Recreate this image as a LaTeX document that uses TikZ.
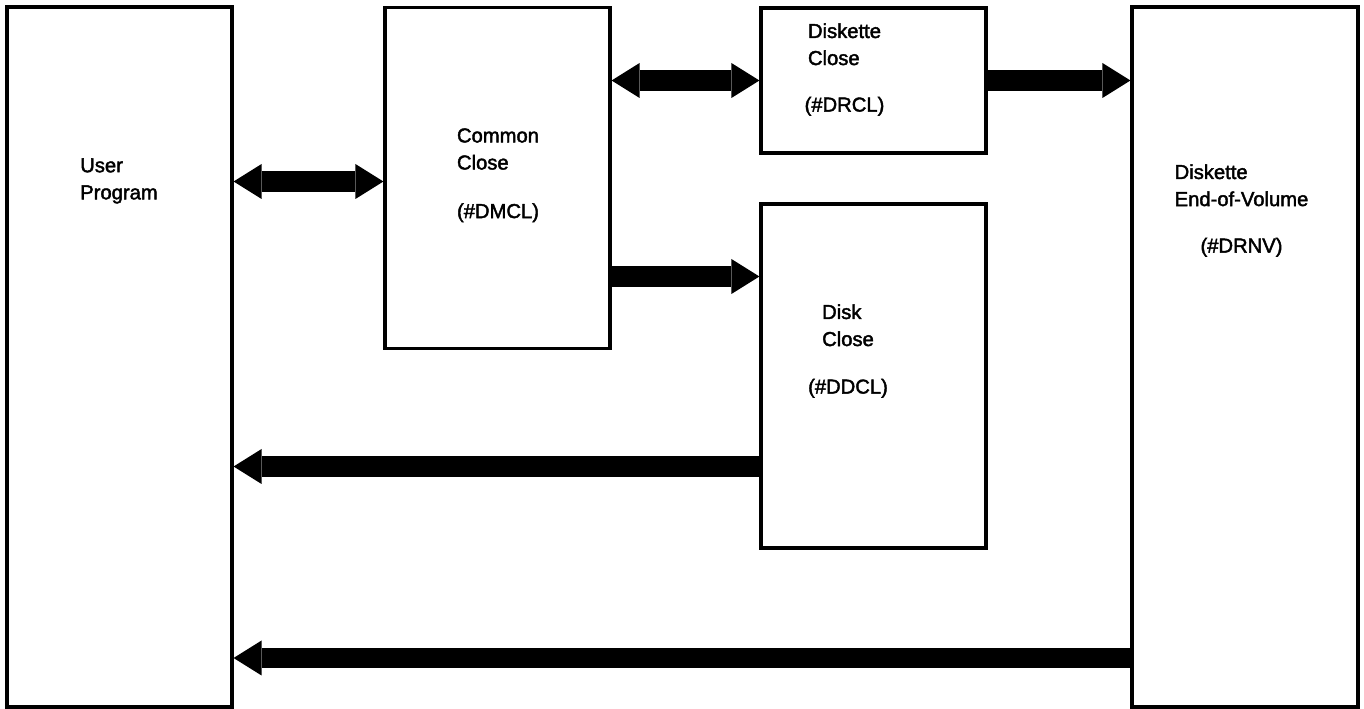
\documentclass[tikz,border=0pt]{standalone}
\usepackage{fontspec}
\setmainfont{Liberation Sans}[UprightFeatures={FakeBold=2}]
\usetikzlibrary{arrows.meta,positioning}

\begin{document}
\begin{tikzpicture}[font=\fontsize{11.5}{15.4}\selectfont,
  blk/.style={draw,line width=1.8pt,minimum width=4.5cm,inner sep=0pt},
  txt/.style={align=left,inner sep=0pt,anchor=north},
  code/.style={inner sep=0pt,anchor=base},
  flow/.style={line width=0.41cm,-{Triangle[length=0.56cm,width=0.7cm,line width=0pt]}},
  dflow/.style={line width=0.41cm,{Triangle[length=0.56cm,width=0.7cm,line width=0pt]}-{Triangle[length=0.56cm,width=0.7cm,line width=0pt]}}]
\useasboundingbox (0,0) rectangle (27.28,14.18);
% boxes
\node[blk,minimum height=14cm] (user) at (2.39,7.04) {};
\node[blk,minimum height=6.82cm] (common) at (9.95,10.62) {};
\node[blk,minimum height=2.9cm] (dkclose) at (17.47,12.57) {};
\node[blk,minimum height=6.88cm] (disk) at (17.47,6.66) {};
\node[blk,minimum width=4.52cm,minimum height=14cm] (eov) at (24.9,7.04) {};
% labels
\node[txt] (usertxt) at (2.38,11.02) {User\\Program};
\node[txt] (commontxt) at (9.96,11.62) {Common\\Close};
\node[code] (commoncode) at ([yshift=-0.96cm]commontxt.south) {(\#DMCL)};
\node[txt] (dkclosetxt) at (16.89,13.72) {Diskette\\Close};
\node[code] (dkclosecode) at ([yshift=-0.92cm]dkclosetxt.south) {(\#DRCL)};
\node[txt] (disktxt) at (16.96,8.1) {Disk\\Close};
\node[code] (diskcode) at ([yshift=-0.94cm]disktxt.south) {(\#DDCL)};
\node[txt] (eovtxt) at (24.83,10.9) {Diskette\\End-of-Volume};
\node[code] (eovcode) at ([yshift=-0.92cm]eovtxt.south) {(\#DRNV)};
% connectors
\coordinate (uc) at ([yshift=-0.07cm]common.west);
\coordinate (cd) at ([yshift=-1.97cm]common.east);
\coordinate (du) at ([yshift=-1.81cm]disk.west);
\coordinate (eu) at ([yshift=-6.02cm]eov.west);
\draw[dflow] (uc -| user.east) -- (uc);
\draw[dflow] (common.east |- dkclose.west) -- (dkclose.west);
\draw[flow] (dkclose.east) -- (eov.west |- dkclose.east);
\draw[flow] (cd) -- (cd -| disk.west);
\draw[flow] (du) -- (du -| user.east);
\draw[flow] (eu) -- (eu -| user.east);
\end{tikzpicture}
\end{document}
